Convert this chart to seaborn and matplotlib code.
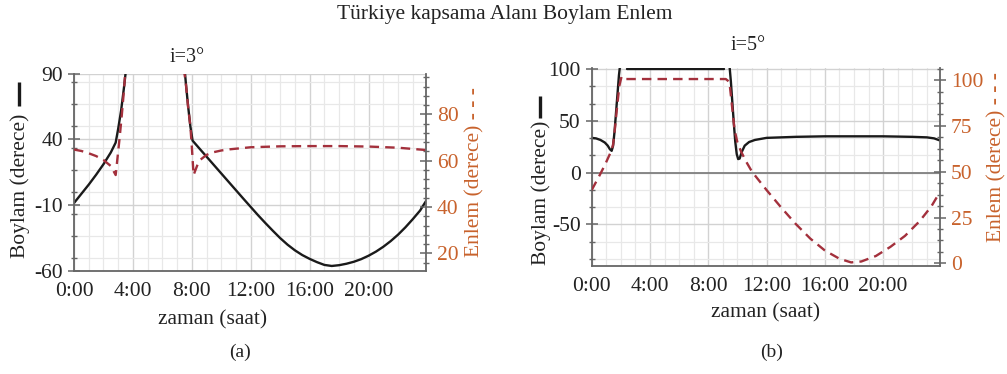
import numpy as np
import pandas as pd
import matplotlib
matplotlib.use("Agg")
import matplotlib.pyplot as plt
from matplotlib.lines import Line2D
from matplotlib.ticker import MultipleLocator, FuncFormatter, FixedLocator
import seaborn as sns

# ---------------- data ----------------
# Panel (a): i=3 deg
hours_a_boylam_1 = [0, 0.5, 1.0, 1.5, 2.0, 2.5, 2.83, 3.0, 3.2, 3.4, 3.55]
boylam_a_1 = [-8.5, -1.5, 5.5, 13, 21, 30, 37.5, 48, 62, 80, 95]
hours_a_boylam_2 = [7.5, 7.6, 7.75, 7.9, 8.05, 8.5, 9.0, 9.5, 10.0, 10.5, 11.0, 11.5,
                    12.0, 12.5, 13.0, 13.5, 14.0, 14.5, 15.0, 15.5, 16.0, 16.5, 17.0,
                    17.5, 18.0, 18.5, 19.0, 19.5, 20.0, 20.5, 21.0, 21.5, 22.0, 22.5,
                    23.0, 23.5, 23.9]
boylam_a_2 = [95, 82, 65, 50, 39, 33.2, 26.8, 20.4, 14, 7.6, 1.2, -5.2,
              -11.5, -17.8, -23.8, -29.6, -35.2, -40.2, -44.5, -48.1, -51, -53.5, -55.6,
              -56.4, -55.8, -54.7, -53.2, -51.2, -48.6, -45.5, -41.8, -37.5, -32.6, -27.0,
              -20.8, -14.2, -7.0]
hours_a_enlem_1 = [0, 0.5, 1.0, 1.5, 2.0, 2.5, 2.83, 3.0, 3.1, 3.25, 3.4, 3.5]
enlem_a_1 = [64.8, 64.2, 63.2, 62, 60.3, 57.7, 53.8, 64, 70, 80, 91, 100]
hours_a_enlem_2 = [7.45, 7.6, 7.75, 7.9, 8.0, 8.12, 8.25, 8.4, 8.6, 9.0, 9.43, 10.0,
                   10.56, 12.0, 14.0, 16.0, 18.0, 20.0, 22.0, 23.9]
enlem_a_2 = [100, 93, 83, 75, 66, 53.8, 56, 58.5, 60.5, 62.5, 63.6, 64.4,
             64.9, 65.8, 66.2, 66.3, 66.3, 66.1, 65.6, 64.6]

# Panel (b): i=5 deg
hours_b_boylam_1 = [0, 0.3, 0.6, 0.9, 1.1, 1.25, 1.37, 1.47, 1.57, 1.67, 1.77, 1.87, 1.95]
boylam_b_1 = [33.5, 33, 31.5, 29, 26, 22.5, 21, 26, 40, 58, 76, 94, 104]
hours_b_boylam_2 = [2.4, 4.0, 6.0, 8.0, 9.1]
boylam_b_2 = [100.5, 100.5, 100.5, 100.5, 100.5]
hours_b_boylam_3 = [9.45, 9.55, 9.65, 9.75, 9.85, 9.95, 10.05, 10.15, 10.3, 10.5, 10.8,
                    11.2, 12.0, 14.0, 16.0, 18.0, 20.0, 22.0, 23.0, 23.5, 23.9]
boylam_b_3 = [104, 88, 68, 48, 30, 18, 13, 13.5, 20, 26, 29.5,
              31.5, 33.5, 34.5, 35, 35, 35, 34.5, 34, 33, 31]
hours_b_enlem = [0, 0.5, 0.9, 1.37, 1.47, 1.6, 1.75, 1.9, 2.05, 2.3, 4, 6, 8, 9.2,
                 9.45, 9.6, 9.8, 10.0, 10.25, 10.6, 11.0, 12.0, 13.0, 14.0, 15.0,
                 16.0, 17.0, 17.8, 18.5, 19.5, 20.5, 21.5, 22.5, 23.3, 23.9]
enlem_b = [40, 47.4, 53.6, 61.8, 65, 74, 86, 97, 102, 100.6, 100.6, 100.6, 100.6, 100.6,
           99, 88, 73, 66, 61, 55.5, 50, 40, 30.5, 21.5, 13.5,
           7, 2.5, 0.5, 1, 4, 9, 15, 23, 31, 39]

hour_ticks = [0, 4, 8, 12, 16, 20]
title_text = "Türkiye kapsama Alanı Boylam Enlem"
subtitles = ["i=3°", "i=5°"]
panel_tags = ["(a)", "(b)"]


def segments(pairs):
    frames = []
    for k, (h, v) in enumerate(pairs):
        frames.append(pd.DataFrame({"hour": h, "value": v, "seg": k}))
    return pd.concat(frames, ignore_index=True)


df_a_b = segments([(hours_a_boylam_1, boylam_a_1), (hours_a_boylam_2, boylam_a_2)])
df_a_e = segments([(hours_a_enlem_1, enlem_a_1), (hours_a_enlem_2, enlem_a_2)])
df_b_b = segments([(hours_b_boylam_1, boylam_b_1), (hours_b_boylam_2, boylam_b_2),
                   (hours_b_boylam_3, boylam_b_3)])
df_b_e = segments([(hours_b_enlem, enlem_b)])

# ---------------- style ----------------
sns.set_theme(style="white")
plt.rcParams["font.family"] = ["Liberation Serif", "DejaVu Serif"]
plt.rcParams["axes.unicode_minus"] = False

W, H = 1007, 374
fig = plt.figure(figsize=(W / 100, H / 100), dpi=100)
fig.patch.set_facecolor("white")

BLACK = "#1a1a1a"
RED = "#a3303c"
ORANGE = "#c8622c"
SPINE = "#666666"
TXT = "#222222"
FS = 15.5


def px_axes(x0, x1, y0, y1):
    return fig.add_axes([x0 / W, 1 - y1 / H, (x1 - x0) / W, (y1 - y0) / H])


def style_panel(ax, axr, ylim, yticks, yminor, rlim, rticks, rminor):
    ax.set_xlim(0, 23.9)
    ax.set_ylim(*ylim)
    axr.set_ylim(*rlim)
    ax.xaxis.set_major_locator(FixedLocator(hour_ticks))
    ax.xaxis.set_minor_locator(MultipleLocator(1))
    ax.xaxis.set_major_formatter(FuncFormatter(lambda x, p: f"{int(round(x))}:00"))
    ax.yaxis.set_major_locator(FixedLocator(yticks))
    ax.yaxis.set_minor_locator(MultipleLocator(yminor))
    axr.yaxis.set_major_locator(FixedLocator(rticks))
    axr.yaxis.set_minor_locator(MultipleLocator(rminor))
    ax.set_axisbelow(True)
    ax.grid(which="major", color="#d2d2d2", lw=1.0)
    ax.grid(which="minor", color="#e8e8e8", lw=0.9)
    for a in (ax, axr):
        for s in a.spines.values():
            s.set_visible(False)
    ax.spines["left"].set_visible(True)
    ax.spines["bottom"].set_visible(True)
    axr.spines["right"].set_visible(True)
    for s in (ax.spines["left"], ax.spines["bottom"], axr.spines["right"]):
        s.set_color(SPINE)
        s.set_linewidth(1.3)
    ax.tick_params(axis="both", which="major", direction="inout", length=8,
                   width=1.1, color=SPINE, labelsize=FS, labelcolor=TXT, pad=4)
    ax.tick_params(axis="both", which="minor", direction="inout", length=5,
                   width=1.0, color=SPINE)
    ax.tick_params(axis="y", which="both", right=False)
    ax.tick_params(axis="x", which="both", top=False)
    axr.tick_params(axis="y", which="major", direction="inout", length=8, width=1.1,
                    color=SPINE, labelsize=FS, labelcolor=ORANGE, pad=4)
    axr.tick_params(axis="y", which="minor", direction="inout", length=5, width=1.0,
                    color=SPINE)
    ax.set_xlabel("zaman (saat)", fontsize=FS, color=TXT)
    ax.set_ylabel("Boylam (derece)", fontsize=FS, color=TXT)
    axr.set_ylabel("Enlem (derece) - - -", fontsize=FS, color=ORANGE)


def draw(ax, axr, dfb, dfe):
    sns.lineplot(data=dfb, x="hour", y="value", units="seg", estimator=None,
                 sort=False, color=BLACK, lw=1.7, ax=ax, legend=False)
    sns.lineplot(data=dfe, x="hour", y="value", units="seg", estimator=None,
                 sort=False, color=RED, lw=1.7, ax=axr, legend=False)
    for ln in axr.lines:
        ln.set_dashes([4, 2.6])


def legend_bar(xpx, y0px, y1px):
    fig.add_artist(Line2D([xpx / W, xpx / W], [1 - y0px / H, 1 - y1px / H],
                          transform=fig.transFigure, color=BLACK, lw=2.4,
                          solid_capstyle="butt"))


# Panel (a)
axA = px_axes(74, 426, 73.6, 270.7)
axAr = axA.twinx()
draw(axA, axAr, df_a_b, df_a_e)
style_panel(axA, axAr, (-60, 90), [90, 40, -10, -60], 50 / 3,
            (12.5, 97.6), [20, 40, 60, 80], 4)
axA.yaxis.set_label_coords(-0.125, 0.43)
axAr.yaxis.set_label_coords(1.111, 0.5)
axA.xaxis.set_label_coords(0.395, -0.2)
legend_bar(19, 82, 106)

# Panel (b)
axB = px_axes(591.7, 940, 67.5, 265.7)
axBr = axB.twinx()
axB.axhline(0, color="#808080", lw=1.3, zorder=1.5)
draw(axB, axBr, df_b_b, df_b_e)
style_panel(axB, axBr, (-90, 101.5), [100, 50, 0, -50], 50 / 3,
            (-1.3, 106.9), [0, 25, 50, 75, 100], 6.25)
axB.yaxis.set_label_coords(-0.117, 0.37)
axBr.yaxis.set_label_coords(1.135, 0.55)
axB.xaxis.set_label_coords(0.5, -0.19)
legend_bar(540, 96, 118)

# Texts
fig.text(505 / W, 1 - 15 / H, title_text, ha="center", va="center",
         fontsize=FS, color=TXT)
fig.text(187 / W, 1 - 57 / H, subtitles[0], ha="center", va="center",
         fontsize=14.5, color=TXT)
fig.text(748 / W, 1 - 46 / H, subtitles[1], ha="center", va="center",
         fontsize=14.5, color=TXT)
fig.text(240 / W, 1 - 352 / H, panel_tags[0], ha="center", va="center",
         fontsize=14, color=TXT)
fig.text(772 / W, 1 - 352 / H, panel_tags[1], ha="center", va="center",
         fontsize=14, color=TXT)

fig.savefig("out.png", dpi=100, facecolor="white")
